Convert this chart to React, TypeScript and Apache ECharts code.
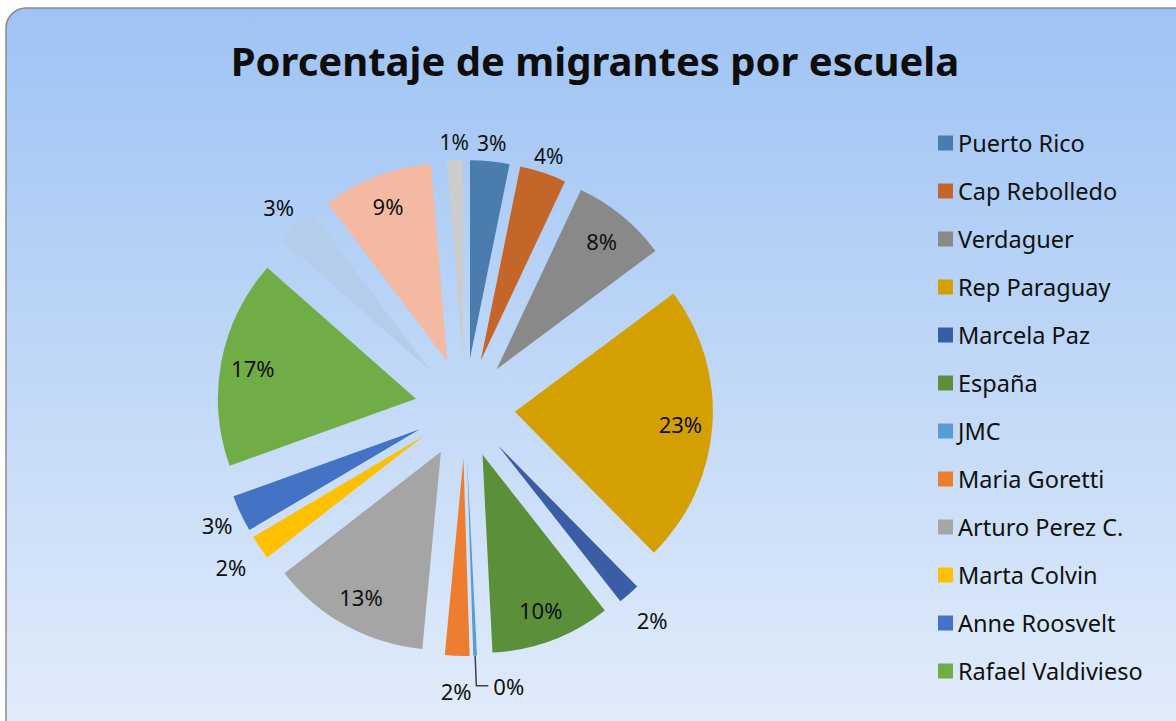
import React, { useEffect, useRef } from 'react';
import * as echarts from 'echarts';

const categories = [
  'Puerto Rico', 'Cap Rebolledo', 'Verdaguer', 'Rep Paraguay', 'Marcela Paz', 'España',
  'JMC', 'Maria Goretti', 'Arturo Perez C.', 'Marta Colvin', 'Anne Roosvelt', 'Rafael Valdivieso',
  'Otra escuela A', 'Otra escuela B', 'Otra escuela C',
];
const values = [3.2, 3.8, 7.8, 22.8, 1.8, 9.8, 0.3, 2.0, 13.0, 2.0, 3.0, 17.0, 3.2, 9.0, 1.3];
const colors = [
  '#4A7DAE', '#C4662A', '#898989', '#D49F00', '#3A5DA5', '#5B8F3A',
  '#5B9BD5', '#ED7D31', '#A5A5A5', '#FFC000', '#4472C4', '#70AD47',
  '#B5CCEA', '#F4B9A3', '#CCCCCC',
];
// where each slice's percentage label sits
const labelPlacement = [
  'near', 'near', 'inner', 'inner', 'far', 'inner',
  'line', 'far', 'inner', 'far', 'mid', 'inner',
  'mid', 'inner', 'near',
];
const legendNames = categories.slice(0, 12);
const titleText = 'Porcentaje de migrantes por escuela';

const FONT = '"Noto Sans", "Open Sans", sans-serif';
const CENTER = [465, 408];
const RADIUS = 198;
const OFFSET = 50;

const pctFormatter = (p: any) => `${Math.round(p.percent)}%`;

function labelSeries(kind: string, radius: number, fontSize: number) {
  return {
    type: 'pie',
    center: CENTER,
    radius: [0, radius],
    startAngle: 90,
    clockwise: true,
    selectedMode: 'multiple',
    selectedOffset: OFFSET,
    silent: true,
    legendHoverLink: false,
    avoidLabelOverlap: false,
    z: 3,
    itemStyle: { color: 'rgba(0,0,0,0)', borderWidth: 0 },
    emphasis: { disabled: true },
    labelLine: { show: false },
    label: {
      show: true,
      position: 'inside',
      formatter: pctFormatter,
      fontFamily: FONT,
      fontSize,
      color: '#111',
    },
    data: categories.map((name, i) => ({
      name,
      value: values[i],
      selected: true,
      label: { show: labelPlacement[i] === kind },
    })),
  };
}

export default function App() {
  const ref = useRef<HTMLDivElement>(null);

  useEffect(() => {
    if (!ref.current) return;
    const chart = echarts.init(ref.current, undefined, { renderer: 'svg' });
    chart.setOption({
      animation: false,
      color: colors,
      graphic: [
        {
          type: 'rect',
          z: -10,
          silent: true,
          shape: { x: 6, y: 8, width: 1200, height: 740, r: 20 },
          style: {
            fill: new echarts.graphic.LinearGradient(0, 0, 0, 1, [
              { offset: 0, color: '#9EC3F4' },
              { offset: 1, color: '#E3EDFA' },
            ]),
            stroke: '#8A8A8A',
            lineWidth: 1.5,
          },
        },
      ],
      title: {
        text: titleText,
        left: 595,
        top: 40,
        textAlign: 'center',
        padding: 0,
        textStyle: {
          fontFamily: FONT,
          fontSize: 40,
          fontWeight: 'bold',
          color: '#0d0d0d',
        },
      },
      legend: {
        data: legendNames,
        orient: 'vertical',
        left: 938,
        top: 131,
        padding: 0,
        itemWidth: 15,
        itemHeight: 15,
        itemGap: 24,
        icon: 'rect',
        textStyle: {
          fontFamily: FONT,
          fontSize: 23.5,
          lineHeight: 24,
          color: '#111',
        },
      },
      series: [
        {
          type: 'pie',
          center: CENTER,
          radius: [0, RADIUS],
          startAngle: 90,
          clockwise: true,
          selectedMode: 'multiple',
          selectedOffset: OFFSET,
          avoidLabelOverlap: false,
          z: 2,
          itemStyle: { borderWidth: 0 },
          label: {
            show: false,
            position: 'outside',
            formatter: pctFormatter,
            fontFamily: FONT,
            fontSize: 22,
            color: '#111',
          },
          labelLine: {
            show: false,
            length: 30,
            length2: 12,
            lineStyle: { color: '#404040', width: 1.5 },
          },
          data: categories.map((name, i) => ({
            name,
            value: values[i],
            selected: true,
            itemStyle: { color: colors[i] },
            label: { show: labelPlacement[i] === 'line' },
            labelLine: { show: labelPlacement[i] === 'line' },
          })),
        },
        labelSeries('inner', 326, 22),
        labelSeries('near', 426, 21),
        labelSeries('mid', 442, 22),
        labelSeries('far', 460, 22),
      ],
    });
    return () => chart.dispose();
  }, []);

  return (
    <div
      ref={ref}
      style={{ position: 'fixed', left: 0, top: 0, width: 1176, height: 721, background: '#ffffff' }}
    />
  );
}
